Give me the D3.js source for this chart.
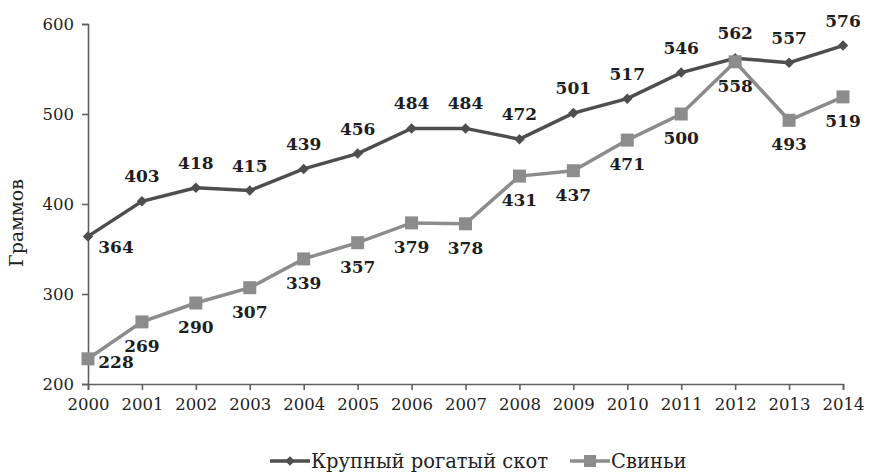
<!DOCTYPE html>
<html>
<head>
<meta charset="utf-8">
<script src="https://cdn.jsdelivr.net/npm/d3@7"></script>
<style>
  body { margin: 0; background: #fff; }
  svg text { font-family: "DejaVu Serif", "Liberation Serif", serif; }
</style>
</head>
<body>
<div class="canvas"></div>
<script>
// data
const years = [2000, 2001, 2002, 2003, 2004, 2005, 2006, 2007, 2008, 2009, 2010, 2011, 2012, 2013, 2014]
const cattle = [364, 403, 418, 415, 439, 456, 484, 484, 472, 501, 517, 546, 562, 557, 576]
const pigs = [228, 269, 290, 307, 339, 357, 379, 378, 431, 437, 471, 500, 558, 493, 519]
const yTicks = [200, 300, 400, 500, 600]
const seriesNames = ['Крупный рогатый скот', 'Свиньи']

const width = 870
const height = 472

const svg = d3.select('.canvas')
    .append('svg')
    .attr('width', width)
    .attr('height', height)

// scales
const x = d3.scalePoint()
    .domain(years)
    .range([88, 843])

const y = d3.scaleLinear()
    .domain([200, 600])
    .range([384, 24])

// axes
const xAxis = d3.axisBottom(x).tickSizeOuter(0).tickSize(6)
const yAxis = d3.axisLeft(y).tickValues(yTicks).tickSizeOuter(0).tickSize(6).tickPadding(8)

const xAxisGroup = svg.append('g')
    .attr('transform', 'translate(0,384)')
    .call(xAxis)
const yAxisGroup = svg.append('g')
    .attr('transform', 'translate(88,0)')
    .call(yAxis)

for (const g of [xAxisGroup, yAxisGroup]) {
    g.selectAll('path, line').attr('stroke', '#606060').attr('stroke-width', 1.6)
    g.selectAll('text').attr('fill', '#222').style('font-size', '16.5px')
}
xAxisGroup.selectAll('text').attr('dy', '1.0em')

svg.append('text')
    .attr('transform', 'translate(23,223) rotate(-90)')
    .attr('text-anchor', 'middle')
    .attr('fill', '#222')
    .style('font-size', '19px')
    .text('Граммов')

const line = d3.line()
    .x((d, i) => x(years[i]))
    .y(d => y(d))

const cattleColor = '#4e4e4e'
const pigColor = '#8c8c8c'

// cattle line
svg.append('path')
    .datum(cattle)
    .attr('d', line)
    .attr('fill', 'none')
    .attr('stroke', cattleColor)
    .attr('stroke-width', 3.5)

svg.selectAll('.diamond')
    .data(cattle)
    .enter()
    .append('path')
    .attr('class', 'diamond')
    .attr('d', d3.symbol().type(d3.symbolDiamond2).size(70))
    .attr('transform', (d, i) => `translate(${x(years[i])},${y(d)})`)
    .attr('fill', cattleColor)

// pig line
svg.append('path')
    .datum(pigs)
    .attr('d', line)
    .attr('fill', 'none')
    .attr('stroke', pigColor)
    .attr('stroke-width', 3.5)

svg.selectAll('.square')
    .data(pigs)
    .enter()
    .append('rect')
    .attr('class', 'square')
    .attr('x', (d, i) => x(years[i]) - 6.5)
    .attr('y', d => y(d) - 6.5)
    .attr('width', 13)
    .attr('height', 13)
    .attr('fill', pigColor)

// labels
const labelStyle = sel => sel
    .attr('text-anchor', 'middle')
    .attr('fill', '#1e1e1e')
    .style('font-size', '17px')
    .style('font-weight', 'bold')
    .text(d => d)

svg.selectAll('.cattle-label')
    .data(cattle)
    .enter()
    .append('text')
    .attr('class', 'cattle-label')
    .attr('x', (d, i) => x(years[i]) + (i === 0 ? 28 : 0))
    .attr('y', (d, i) => y(d) + (i === 0 ? 17 : -19))
    .call(labelStyle)

svg.selectAll('.pig-label')
    .data(pigs)
    .enter()
    .append('text')
    .attr('class', 'pig-label')
    .attr('x', (d, i) => x(years[i]) + (i === 0 ? 28 : 0))
    .attr('y', (d, i) => y(d) + (i === 0 ? 9 : 30))
    .call(labelStyle)

// legend
const legend = svg.append('g').attr('transform', 'translate(270,461)')
const items = [
    { name: seriesNames[0], color: cattleColor, shape: 'diamond', x0: 0 },
    { name: seriesNames[1], color: pigColor, shape: 'square', x0: 300 }
]
items.forEach(item => {
    const g = legend.append('g').attr('transform', `translate(${item.x0},0)`)
    g.append('line')
        .attr('x1', 0).attr('x2', 40)
        .attr('stroke', item.color)
        .attr('stroke-width', 3.5)
    if (item.shape === 'diamond') {
        g.append('path')
            .attr('d', d3.symbol().type(d3.symbolDiamond2).size(60))
            .attr('transform', 'translate(20,0)')
            .attr('fill', item.color)
    } else {
        g.append('rect')
            .attr('x', 14).attr('y', -6).attr('width', 12).attr('height', 12)
            .attr('fill', item.color)
    }
    g.append('text')
        .attr('x', 41)
        .attr('dy', '0.35em')
        .attr('fill', '#222')
        .style('font-size', '19.5px')
        .text(item.name)
})
</script>
</body>
</html>
